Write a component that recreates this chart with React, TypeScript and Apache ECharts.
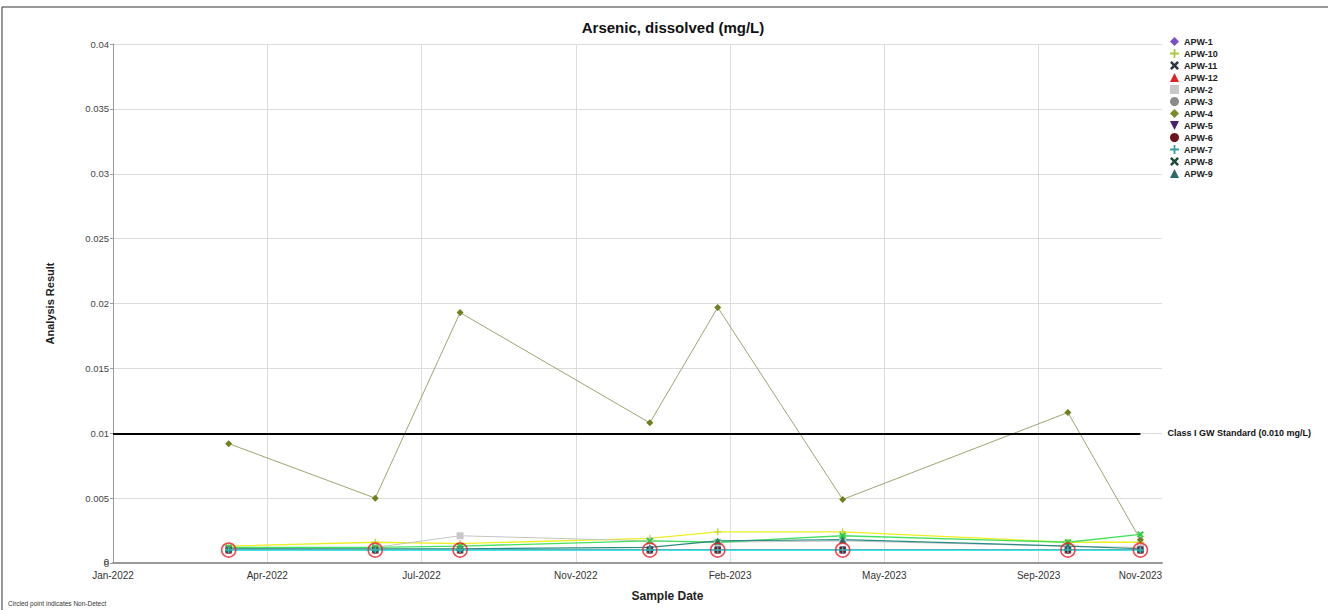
import React, { useEffect, useRef } from "react";
import * as echarts from "echarts";

const ORIGIN = Date.UTC(2022, 0, 10);
const DAY = 86400000;
const MONTHS = ["Jan", "Feb", "Mar", "Apr", "May", "Jun", "Jul", "Aug", "Sep", "Oct", "Nov", "Dec"];

// Sample dates
const sampleDates = ["2022-03-26", "2022-06-29", "2022-08-23", "2022-12-24", "2023-02-06", "2023-04-28", "2023-09-21", "2023-11-07"];
// Tick label dates on the x axis
const xTickDates = ["2022-01-10", "2022-04-20", "2022-07-29", "2022-11-06", "2023-02-14", "2023-05-25", "2023-09-02"];
const xLabelDates = [...xTickDates, "2023-11-07"];
const xAxisEndDate = "2023-11-21";
// Y tick labels
const yTicks = [0, 0.005, 0.01, 0.015, 0.02, 0.025, 0.03, 0.035, 0.04];

// Series values (mg/L)
const apw1 = [0.001, 0.001, 0.001, 0.001, 0.001, 0.001, 0.001, 0.001];
const apw10 = [0.0013, 0.0016, 0.0015, 0.0019, 0.0024, 0.0024, 0.0016, 0.0016];
const apw11 = [0.001, 0.001, 0.001, 0.001, 0.001, 0.001, 0.001, 0.001];
const apw12 = [0.001, 0.001, 0.001, 0.001, 0.001, 0.001, 0.001, 0.001];
const apw2 = [0.0011, 0.0012, 0.0021, 0.0017, 0.0016, 0.0017, 0.0013, 0.0012];
const apw3 = [0.001, 0.001, 0.001, 0.001, 0.001, 0.001, 0.001, 0.001];
const apw4 = [0.0092, 0.005, 0.0193, 0.0108, 0.0197, 0.0049, 0.0116, 0.0018];
const apw5 = [0.001, 0.001, 0.001, 0.001, 0.001, 0.001, 0.001, 0.001];
const apw6 = [0.001, 0.001, 0.001, 0.001, 0.001, 0.001, 0.001, 0.001];
const apw7 = [0.001, 0.001, 0.001, 0.001, 0.001, 0.001, 0.001, 0.001];
const apw8 = [0.0012, 0.0012, 0.0013, 0.0017, 0.0016, 0.0021, 0.0016, 0.0022];
const apw9 = [0.0011, 0.0011, 0.0011, 0.0012, 0.0017, 0.0018, 0.0013, 0.0011];
const nonDetects = [0.001, 0.001, 0.001, 0.001, 0.001, 0.001, 0.001, 0.001];
const standardValue = 0.01;
const standardLabel = "Class I GW Standard (0.010 mg/L)";

const toDay = (s: string) => (Date.parse(s + "T00:00:00Z") - ORIGIN) / DAY;
const fmtDay = (d: number) => {
  const dt = new Date(ORIGIN + Math.round(d) * DAY);
  return MONTHS[dt.getUTCMonth()] + "-" + dt.getUTCFullYear();
};

const PLUS = "path://M4,0H6V4H10V6H6V10H4V6H0V4H4Z";
const CROSS = "path://M0,2L2,0L5,3L8,0L10,2L7,5L10,8L8,10L5,7L2,10L0,8L3,5Z";
const DOWN = "path://M0,0H10L5,10Z";

const seriesDefs = [
  { name: "APW-1", values: apw1, symbol: "diamond", marker: "#7b4fc4", line: "#7b4fc4", width: 1 },
  { name: "APW-10", values: apw10, symbol: PLUS, marker: "#c8d834", line: "#eeee22", width: 1.3 },
  { name: "APW-11", values: apw11, symbol: CROSS, marker: "#2a3442", line: "#2a3442", width: 1 },
  { name: "APW-12", values: apw12, symbol: "triangle", marker: "#d8262a", line: "#d8262a", width: 1 },
  { name: "APW-2", values: apw2, symbol: "rect", marker: "#c8c8c8", line: "#c4c4c4", width: 1 },
  { name: "APW-3", values: apw3, symbol: "circle", marker: "#8a8a8a", line: "#8a8a8a", width: 1 },
  { name: "APW-5", values: apw5, symbol: DOWN, marker: "#4a1f6e", line: "#4a1f6e", width: 1 },
  { name: "APW-6", values: apw6, symbol: "circle", marker: "#6e1420", line: "#6e1420", width: 1 },
  { name: "APW-4", values: apw4, symbol: "diamond", marker: "#6f7f22", line: "#a3a372", width: 1 },
  { name: "APW-8", values: apw8, symbol: CROSS, marker: "#2ecc40", line: "#44e060", width: 1.3 },
  { name: "APW-9", values: apw9, symbol: "triangle", marker: "#1f6f6a", line: "#2a8a80", width: 1.2 },
  { name: "APW-7", values: apw7, symbol: PLUS, marker: "#38b6b6", line: "#44e4e4", width: 1.8 },
];
const legendOrder = ["APW-1", "APW-10", "APW-11", "APW-12", "APW-2", "APW-3", "APW-4", "APW-5", "APW-6", "APW-7", "APW-8", "APW-9"];
const legendMarkers: Record<string, { icon: string; color: string }> = {
  "APW-1": { icon: "diamond", color: "#7b4fc4" },
  "APW-10": { icon: PLUS, color: "#a9c93a" },
  "APW-11": { icon: CROSS, color: "#2a3442" },
  "APW-12": { icon: "triangle", color: "#d8262a" },
  "APW-2": { icon: "rect", color: "#c8c8c8" },
  "APW-3": { icon: "circle", color: "#8a8a8a" },
  "APW-4": { icon: "diamond", color: "#7a8a2a" },
  "APW-5": { icon: DOWN, color: "#4a1f6e" },
  "APW-6": { icon: "circle", color: "#6e1420" },
  "APW-7": { icon: PLUS, color: "#3a9c9c" },
  "APW-8": { icon: CROSS, color: "#1f4a3a" },
  "APW-9": { icon: "triangle", color: "#2a6a6a" },
};

const FONT = 'Arial, "Liberation Sans", sans-serif';

export default function App() {
  const ref = useRef<HTMLDivElement>(null);
  useEffect(() => {
    if (!ref.current) return;
    const chart = echarts.init(ref.current, undefined, { renderer: "svg" });
    const days = sampleDates.map(toDay);
    const series: any[] = seriesDefs.map((s) => ({
      name: s.name,
      type: "line",
      data: s.values.map((v, i) => [days[i], v]),
      symbol: s.symbol,
      symbolSize: 7,
      showAllSymbol: true,
      lineStyle: { color: s.line, width: s.width },
      itemStyle: { color: s.marker },
      emphasis: { disabled: true },
    }));
    series.push({
      name: "Non-Detect",
      type: "scatter",
      data: nonDetects.map((v, i) => [days[i], v]),
      symbol: "circle",
      symbolSize: 14,
      itemStyle: { color: "rgba(0,0,0,0)", borderColor: "#ee1c25", borderWidth: 1.6 },
      z: 5,
      silent: true,
      markLine: {
        silent: true,
        symbol: "none",
        lineStyle: { color: "#000", width: 2, type: "solid" },
        label: {
          show: true,
          position: "end",
          distance: 27,
          formatter: standardLabel,
          fontFamily: FONT,
          fontSize: 9,
          fontWeight: "bold",
          color: "#111",
        },
        data: [[{ coord: [0, standardValue] }, { coord: [toDay(sampleDates[sampleDates.length - 1]), standardValue] }]],
      },
    });

    const baseGraphics: any[] = [
      {
        type: "rect",
        silent: true,
        shape: { x: 2, y: 7, width: 1400, height: 700 },
        style: { fill: "none", stroke: "#333", lineWidth: 1 },
        z: -1,
      },
      {
        type: "text",
        left: 8,
        top: 600,
        silent: true,
        style: { text: "Circled point indicates Non-Detect", fontSize: 6.5, fill: "#333", fontFamily: FONT },
      },
    ];

    chart.setOption({
      animation: false,
      backgroundColor: "#fff",
      textStyle: { fontFamily: FONT },
      title: {
        text: "Arsenic, dissolved (mg/L)",
        left: 668,
        textAlign: "center",
        top: 15,
        textStyle: { fontSize: 15, fontWeight: "bold", color: "#111", fontFamily: FONT },
      },
      legend: {
        orient: "vertical",
        left: 1170,
        top: 37,
        padding: 0,
        itemGap: 3,
        itemWidth: 9,
        itemHeight: 9,
        selectedMode: false,
        textStyle: { fontSize: 9, fontWeight: "bold", color: "#222", fontFamily: FONT },
        data: legendOrder.map((n) => ({ name: n, icon: legendMarkers[n].icon, itemStyle: { color: legendMarkers[n].color } })),
      },
      grid: { left: 113, right: 166, top: 44, bottom: 47, containLabel: false },
      xAxis: {
        type: "value",
        min: 0,
        max: toDay(xAxisEndDate),
        interval: 100,
        name: "Sample Date",
        nameLocation: "middle",
        nameGap: 27,
        nameTextStyle: { fontSize: 12, fontWeight: "bold", color: "#222", fontFamily: FONT, padding: [0, 0, 0, 60] },
        axisLine: { show: true, lineStyle: { color: "#9a9a9a", width: 2 } },
        axisTick: { show: false, customValues: xTickDates.map(toDay) },
        axisLabel: {
          customValues: xLabelDates.map(toDay),
          formatter: (v: number) => fmtDay(v),
          fontSize: 10,
          color: "#333",
          margin: 7,
          fontFamily: FONT,
        },
        splitLine: { show: true, lineStyle: { color: "#dcdcdc", width: 1 } },
      },
      yAxis: {
        type: "value",
        min: 0,
        max: 0.04,
        interval: 0.005,
        name: "Analysis Result",
        nameLocation: "middle",
        nameGap: 58,
        nameTextStyle: { fontSize: 11, fontWeight: "bold", color: "#222", fontFamily: FONT },
        axisLine: { show: true, lineStyle: { color: "#9a9a9a", width: 1 } },
        axisTick: { show: true, length: 3, inside: false, lineStyle: { color: "#9a9a9a" } },
        axisLabel: {
          customValues: yTicks,
          formatter: (v: number) => String(v),
          fontSize: 9.5,
          color: "#444",
          margin: 4,
          fontFamily: FONT,
        },
        splitLine: { show: true, lineStyle: { color: "#dcdcdc", width: 1 } },
      },
      graphic: baseGraphics,
      series,
    });

    // The "0" label at the origin is auto-hidden by ECharts; place it through the axis scale.
    const origin = chart.convertToPixel({ gridIndex: 0 }, [0, yTicks[0]]) as number[];
    if (origin) {
      chart.setOption({
        graphic: [
          ...baseGraphics,
          {
            type: "text",
            silent: true,
            x: origin[0] - 4,
            y: origin[1] - 2,
            style: { text: String(yTicks[0]), fontSize: 9.5, fill: "#444", fontFamily: FONT, align: "right", verticalAlign: "middle" },
          },
        ],
      });
    }
    return () => chart.dispose();
  }, []);
  return <div ref={ref} style={{ position: "fixed", left: 0, top: 0, width: 1328, height: 610 }} />;
}
